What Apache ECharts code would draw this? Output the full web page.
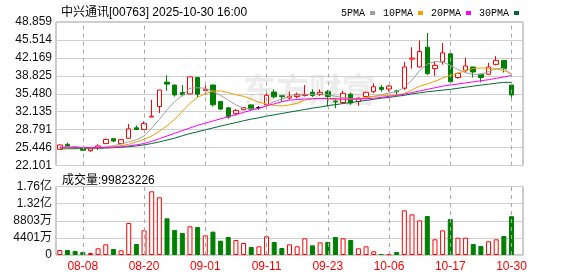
<!DOCTYPE html>
<html><head><meta charset="utf-8">
<script src="https://cdn.jsdelivr.net/npm/echarts@6/dist/echarts.min.js"></script>
<style>html,body{margin:0;padding:0;background:#fff}#c{width:578px;height:276px}</style>
</head><body><div id="c"></div>
<script>
const dates = ['08-05','08-06','08-07','08-08','08-11','08-12','08-13','08-14','08-15','08-18','08-19','08-20','08-21','08-22','08-25','08-26','08-27','08-28','08-29','09-01','09-02','09-03','09-04','09-05','09-08','09-09','09-10','09-11','09-12','09-15','09-16','09-17','09-18','09-19','09-22','09-23','09-24','09-25','09-26','09-29','09-30','10-02','10-03','10-06','10-08','10-09','10-10','10-13','10-14','10-15','10-16','10-17','10-20','10-21','10-22','10-23','10-24','10-27','10-28','10-30'];
const labelDates = ['08-08','08-20','09-01','09-11','09-23','10-06','10-17','10-30'];
const open  = [25.13,26.05,25.55,25.45,24.85,25.45,26.18,27.10,26.18,27.16,29.13,28.81,31.15,33.10,37.65,37.10,35.70,35.45,38.50,36.10,37.10,34.03,32.85,31.76,32.50,33.40,32.90,33.42,35.80,35.10,34.70,34.95,35.15,35.75,35.32,35.87,34.10,33.85,35.38,34.03,34.95,35.87,36.67,36.36,36.00,36.49,41.95,40.47,44.16,40.17,41.40,42.93,38.51,39.86,40.47,39.12,39.12,40.96,41.70,37.10];
const close = [25.93,25.74,25.35,24.95,25.20,25.74,26.97,26.66,26.92,28.94,28.81,29.92,31.30,36.18,37.28,35.26,35.30,38.63,35.40,36.25,33.42,32.62,31.15,32.37,32.92,32.60,32.90,35.20,34.90,34.95,35.00,35.38,35.35,35.15,35.75,34.95,33.95,35.56,33.75,34.64,35.75,36.79,36.30,36.92,35.85,40.47,42.13,43.36,39.25,40.78,43.11,37.71,39.25,40.66,39.55,38.51,40.47,41.70,40.17,35.26];
const low   = [25.10,25.45,25.30,24.90,24.65,25.00,26.18,26.48,26.10,27.16,28.69,28.81,31.15,31.89,36.05,34.95,35.00,35.40,34.80,35.30,33.10,32.50,30.84,31.40,32.40,32.50,32.50,33.00,34.60,34.05,34.35,34.65,34.95,34.85,35.07,33.11,32.80,33.70,33.42,33.23,34.90,35.60,35.87,35.90,35.26,36.18,40.17,40.40,38.94,38.82,40.90,37.22,38.30,39.43,38.51,37.60,38.94,40.78,39.43,34.52];
const high  = [26.00,26.37,25.60,25.50,25.25,26.05,27.10,27.15,27.00,29.86,29.55,30.34,34.34,36.20,38.94,37.15,37.10,38.65,38.55,37.10,37.20,34.10,33.00,32.62,33.00,33.45,33.20,35.60,36.30,35.15,35.90,35.70,37.10,36.30,36.30,36.20,34.60,36.05,35.70,34.83,35.85,37.40,37.10,37.10,36.20,41.40,44.16,45.40,46.80,41.52,44.95,43.24,39.45,42.20,40.50,39.20,41.27,42.50,41.75,37.59];
const volume = [12850000,12850000,10300000,7700000,5100000,17200000,27400000,15400000,12000000,82200000,28300000,63400000,163700000,148300000,94300000,64300000,56500000,73800000,72000000,50600000,60000000,36800000,46300000,38600000,30800000,20600000,22300000,48000000,33400000,18000000,27400000,22400000,42800000,24800000,32500000,33400000,46300000,42800000,38500000,17200000,22400000,9500000,2600000,2000000,7700000,114800000,104500000,89100000,100200000,40300000,63400000,92500000,44500000,44500000,28300000,23100000,35200000,40300000,48800000,99823226];
const ma5  = [25.5,25.6,25.55,25.45,25.4,25.4,25.55,25.8,26.1,26.5,26.9,27.6,29.1,30.7,32.5,34.0,35.2,36.5,36.6,36.5,35.9,35.2,34.3,33.4,32.8,32.6,32.7,33.3,34.0,34.5,35.0,35.2,35.3,35.35,35.45,35.3,35.0,34.8,34.6,34.5,34.65,35.0,35.3,35.6,35.9,36.6,38.0,39.8,41.0,41.5,41.4,40.8,40.0,39.4,39.1,39.1,39.6,40.2,40.2,39.1];
const ma10 = [25.4,25.4,25.4,25.4,25.4,25.45,25.5,25.6,25.8,26.05,26.5,26.97,27.6,28.5,29.5,30.7,32.2,33.7,34.8,35.5,36.0,36.0,35.7,35.3,35.0,34.5,33.9,33.6,33.3,33.2,33.4,33.7,34.3,34.5,34.6,34.5,34.35,34.4,34.45,34.5,34.8,35.0,35.1,35.2,35.3,35.5,36.2,36.9,37.3,37.8,38.4,38.9,39.3,39.8,40.2,40.3,40.2,40.1,39.8,39.2];
const ma20 = [25.5,25.5,25.5,25.48,25.45,25.45,25.48,25.5,25.6,25.75,25.95,26.2,26.6,27.1,27.6,28.1,28.6,29.1,29.6,30.0,30.4,30.8,31.2,31.6,32.0,32.4,32.8,33.2,33.6,34.0,34.3,34.4,34.5,34.55,34.6,34.6,34.55,34.5,34.5,34.5,34.55,34.65,34.8,35.0,35.15,35.4,35.7,36.0,36.3,36.6,36.9,37.1,37.3,37.5,37.7,37.9,38.1,38.35,38.6,38.9];
const ma30 = [25.2,25.22,25.24,25.25,25.27,25.3,25.35,25.42,25.5,25.62,25.75,25.95,26.2,26.5,26.85,27.2,27.65,28.05,28.4,28.75,29.1,29.45,29.8,30.1,30.45,30.75,31.0,31.3,31.55,31.8,32.05,32.3,32.55,32.8,33.0,33.25,33.45,33.65,33.85,34.05,34.25,34.45,34.65,34.8,35.0,35.2,35.45,35.65,35.85,36.0,36.15,36.3,36.5,36.7,36.9,37.1,37.25,37.45,37.6,37.6];
const priceTicks = ['22.101','25.446','28.791','32.135','35.480','38.825','42.169','45.514','48.859'];
const volTicks = ['0','4401万','8803万','1.32亿','1.76亿'];
const titleText = '中兴通讯[00763] 2025-10-30 16:00';
const volText = '成交量:99823226';

const RED = '#ff0000', GREEN = '#008000';
const FONT = "'Liberation Sans', 'Noto Sans CJK SC', sans-serif";
const cats = dates.concat(['']);
const pMin = 22.101, pMax = 48.859, pInt = (pMax - pMin) / 8;
const vMax = 176060000, vInt = vMax / 4;

const kData = dates.map((d, i) => [open[i], close[i], low[i], high[i]]);
const volData = volume.map((v, i) => {
  const up = close[i] >= open[i];
  return { value: v, itemStyle: up ? { color: '#fff', borderColor: RED, borderWidth: 1 } : { color: GREEN, borderColor: GREEN, borderWidth: 1 } };
});
// dashed vertical guides at the labelled dates, positioned by the category axis (markLine)
const vlines = labelDates.map(d => ({ xAxis: d }));
const vlineStyle = { color: '#aaaaaa', type: [4, 4], width: 1, opacity: 1 };
const markV = { silent: true, symbol: 'none', precision: 0, label: { show: false }, lineStyle: vlineStyle, emphasis: { disabled: true }, data: vlines, animation: false };

const chart = echarts.init(document.getElementById('c'), null, { renderer: 'canvas' });
chart.setOption({
  animation: false,
  backgroundColor: '#fff',
  title: [
    { text: titleText, left: 56, top: 2, textStyle: { fontSize: 12, fontWeight: 'normal', color: '#000', fontFamily: FONT } },
    { text: volText, left: 57, top: 170, textStyle: { fontSize: 12, fontWeight: 'normal', color: '#000', fontFamily: FONT } }
  ],
  legend: {
    left: 336, top: 3, align: 'right', icon: 'rect', itemWidth: 5, itemHeight: 4, itemGap: 8,
    data: ['5PMA', '10PMA', '20PMA', '30PMA'],
    textStyle: { fontSize: 10, color: '#000', fontFamily: "'Liberation Mono', monospace" }
  },
  graphic: [
    { type: 'text', left: 243, top: 73, z: -1, silent: true,
      style: { text: '东方财富', fill: '#ececec', font: "bold 33px 'Noto Sans CJK SC'" } }
  ],
  grid: [
    { left: 56, right: 55, top: 22, height: 143.5, show: true, borderColor: '#999', borderWidth: 1, backgroundColor: 'transparent' },
    { left: 56, right: 55, top: 186.5, height: 68.5, show: true, borderColor: '#999', borderWidth: 1, backgroundColor: 'transparent' }
  ],
  xAxis: [
    { type: 'category', gridIndex: 0, data: cats, boundaryGap: true, axisLine: { show: false }, axisTick: { show: false }, axisLabel: { show: false }, splitLine: { show: false } },
    { type: 'category', gridIndex: 1, data: cats, boundaryGap: true, axisLine: { show: false }, axisTick: { show: false }, splitLine: { show: false },
      axisLabel: { color: RED, fontSize: 12, fontFamily: FONT, margin: 6, interval: (idx) => idx % 8 === 3 } }
  ],
  yAxis: [
    { type: 'value', gridIndex: 0, min: pMin, max: pMax, interval: pInt, scale: true,
      axisLine: { show: false }, axisTick: { show: false },
      axisLabel: { color: '#111', fontSize: 12, fontFamily: FONT, margin: 4, formatter: v => priceTicks[Math.round((v - pMin) / pInt)] },
      splitLine: { lineStyle: { color: '#d0d0d0', width: 1 } } },
    { type: 'value', gridIndex: 1, min: 0, max: vMax, interval: vInt,
      axisLine: { show: false }, axisTick: { show: false },
      axisLabel: { color: '#111', fontSize: 12, fontFamily: FONT, margin: 4, formatter: v => volTicks[Math.round(v / vInt)] },
      splitLine: { lineStyle: { color: '#d0d0d0', width: 1 } } }
  ],
  series: [
    { type: 'line', name: '30PMA', xAxisIndex: 0, yAxisIndex: 0, data: ma30, showSymbol: false, symbol: 'none', color: '#006b35', lineStyle: { width: 1, color: '#006b35' }, z: 4,
      markLine: markV },
    { type: 'candlestick', name: 'K', xAxisIndex: 0, yAxisIndex: 0, data: kData, barWidth: 5, z: 3,
      itemStyle: { color: '#fff', color0: GREEN, borderColor: RED, borderColor0: GREEN, borderColorDoji: '#000', borderWidth: 1 } },
    { type: 'line', name: '5PMA', xAxisIndex: 0, yAxisIndex: 0, data: ma5, showSymbol: false, symbol: 'none', color: '#a0a0a0', lineStyle: { width: 1, color: '#a0a0a0' }, z: 4 },
    { type: 'line', name: '10PMA', xAxisIndex: 0, yAxisIndex: 0, data: ma10, showSymbol: false, symbol: 'none', color: '#f0a000', lineStyle: { width: 1, color: '#f0a000' }, z: 4 },
    { type: 'line', name: '20PMA', xAxisIndex: 0, yAxisIndex: 0, data: ma20, showSymbol: false, symbol: 'none', color: '#ff00ff', lineStyle: { width: 1, color: '#ff00ff' }, z: 4 },
    { type: 'bar', name: 'VOL', xAxisIndex: 1, yAxisIndex: 1, data: volData, barWidth: 5, z: 3,
      markLine: markV }
  ]
});
</script></body></html>
